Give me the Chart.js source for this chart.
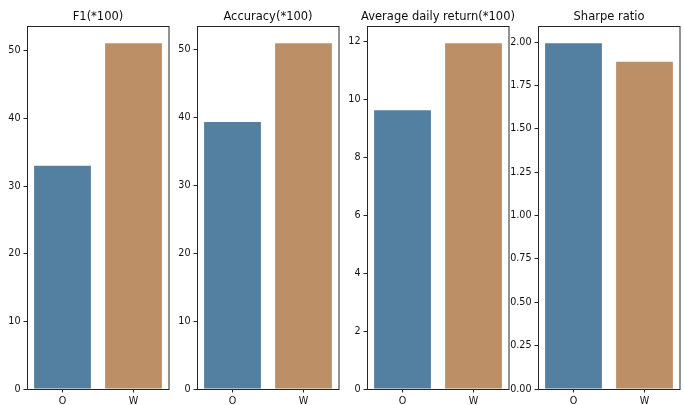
<!DOCTYPE html>
<html>
<head>
<meta charset="utf-8">
<script src="https://cdn.jsdelivr.net/npm/chart.js@4"></script>
<style>
  html, body { margin: 0; padding: 0; background: #ffffff; }
  #wrap { position: relative; width: 684px; height: 405px; overflow: hidden; }
  canvas { position: absolute; top: 0; }
</style>
</head>
<body>
<div id="wrap">
  <canvas id="c0" width="222" height="405"></canvas>
  <canvas id="c1" width="222" height="405"></canvas>
  <canvas id="c2" width="222" height="405"></canvas>
  <canvas id="c3" width="222" height="405"></canvas>
</div>
<script>
// ---- data ----
const categories = ['O', 'W'];
const f1Values = [33.0, 51.1];
const accuracyValues = [39.3, 50.9];
const dailyReturnValues = [9.63, 11.94];
const sharpeValues = [1.994, 1.887];

const titles = ['F1(*100)', 'Accuracy(*100)', 'Average daily return(*100)', 'Sharpe ratio'];

const f1Ticks = [0, 10, 20, 30, 40, 50];
const accuracyTicks = [0, 10, 20, 30, 40, 50];
const dailyReturnTicks = [0, 2, 4, 6, 8, 10, 12];
const sharpeTicks = [0, 0.25, 0.5, 0.75, 1.0, 1.25, 1.5, 1.75, 2.0];
const tickDecimals = [0, 0, 0, 2];

const barColors = ['#537fa1', '#bd8f66'];

// ---- layout ----
const panelLefts = [27, 197, 367, 537.5];
const axisW = 40;

const frame = {
  id: 'frame',
  afterDraw(chart) {
    const a = chart.chartArea, ctx = chart.ctx;
    ctx.save();
    ctx.strokeStyle = '#262626';
    ctx.lineWidth = 1;
    ctx.strokeRect(Math.round(a.left) + 0.5, Math.round(a.top) + 0.5,
                   Math.round(a.right - a.left) - 0.5, Math.round(a.bottom - a.top));
    ctx.restore();
  }
};

const seriesList = [f1Values, accuracyValues, dailyReturnValues, sharpeValues];
const tickList = [f1Ticks, accuracyTicks, dailyReturnTicks, sharpeTicks];

seriesList.forEach((vals, i) => {
  const cv = document.getElementById('c' + i);
  cv.style.left = (panelLefts[i] - axisW) + 'px';
  const ymax = Math.max(...vals) * 1.05;
  new Chart(cv, {
    type: 'bar',
    data: {
      labels: categories,
      datasets: [{
        data: vals,
        backgroundColor: barColors,
        borderWidth: 0,
        categoryPercentage: 1.0,
        barPercentage: 0.8
      }]
    },
    options: {
      responsive: false,
      animation: false,
      devicePixelRatio: 1,
      layout: { padding: 0 },
      plugins: {
        legend: { display: false },
        tooltip: { enabled: false },
        title: {
          display: true,
          text: titles[i],
          fullSize: true,
          color: '#0d0d0d',
          font: { family: 'DejaVu Sans', size: 11.5, weight: 'normal', lineHeight: 1.2 },
          padding: { top: 10, bottom: 2.2 }
        }
      },
      scales: {
        x: {
          offset: true,
          grid: { display: true, drawOnChartArea: false, drawTicks: true, tickLength: 3.5, offset: false, color: '#262626' },
          border: { display: false },
          ticks: { color: '#111111', padding: 3, font: { family: 'DejaVu Sans', size: 9.6 } },
          afterFit(scale) { scale.height = 16; }
        },
        y: {
          min: 0,
          max: ymax,
          grid: { display: true, drawOnChartArea: false, drawTicks: true, tickLength: 3.5, color: '#262626' },
          border: { display: false },
          ticks: {
            color: '#111111',
            padding: 3,
            font: { family: 'DejaVu Sans', size: 9.6 },
            callback: (v) => Number(v).toFixed(tickDecimals[i])
          },
          afterBuildTicks(scale) { scale.ticks = tickList[i].map(v => ({ value: v })); },
          afterFit(scale) { scale.width = axisW; }
        },
        spacer: {
          type: 'linear',
          position: 'right',
          display: true,
          min: 0,
          max: 1,
          grid: { display: false },
          border: { display: false },
          ticks: { display: false },
          afterFit(scale) { scale.width = axisW; }
        }
      }
    },
    plugins: [frame]
  });
});
</script>
</body>
</html>
